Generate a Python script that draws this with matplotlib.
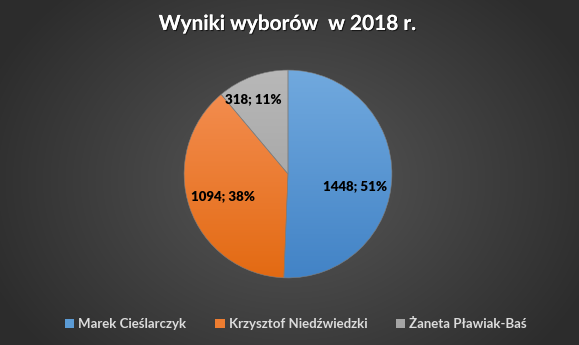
import numpy as np
import matplotlib
matplotlib.use("Agg")
import matplotlib.pyplot as plt
from matplotlib.patches import Patch
import matplotlib.patheffects as pe

title = "Wyniki wyborów  w 2018 r."
candidates = ["Marek Cieślarczyk", "Krzysztof Niedźwiedzki", "Żaneta Pławiak-Baś"]
votes = [1448, 1094, 318]
top_colors = ["#71a9de", "#f59157", "#b8b8b8"]
bottom_colors = ["#4283c6", "#e36a12", "#9a9a9a"]
legend_colors = ["#5b9bd5", "#ed7d31", "#a5a5a5"]

plt.rcParams['font.family'] = ['Lato', 'DejaVu Sans']

W, H = 579, 345
fig = plt.figure(figsize=(W / 100, H / 100), dpi=100)

# background radial gradient
bg = fig.add_axes([0, 0, 1, 1])
bg.set_axis_off()
yy, xx = np.mgrid[0:H, 0:W]
d = np.sqrt(((xx - 290) / 330.0) ** 2 + ((yy - 180) / 260.0) ** 2)
d = np.clip(d, 0, 1)
c0 = np.array([0x58, 0x58, 0x58]) / 255.0
c1 = np.array([0x2c, 0x2c, 0x2c]) / 255.0
img = c0[None, None, :] * (1 - d[..., None]) + c1[None, None, :] * d[..., None]
bg.imshow(img, extent=[0, W, H, 0], aspect='auto')
bg.set_xlim(0, W)
bg.set_ylim(H, 0)

# pie axes
cx, cy, r = 288, 174, 106
ax = fig.add_axes([(cx - r) / W, (H - cy - r) / H, 2 * r / W, 2 * r / H])
ax.set_axis_off()
total = sum(votes)
labels = [f"{v}; {round(v / total * 100):.0f}%" for v in votes]
wedges, texts = ax.pie(votes, startangle=90, counterclock=False, radius=1,
                       colors=legend_colors,
                       wedgeprops=dict(edgecolor="#7f7f7f", linewidth=0.4),
                       labels=labels, labeldistance=0.62)
ax.set_xlim(-1.02, 1.02)
ax.set_ylim(-1.02, 1.02)

# gradient fills
g = np.linspace(0, 1, 256)[:, None]
for w, ct, cb in zip(wedges, top_colors, bottom_colors):
    t = np.array(matplotlib.colors.to_rgb(ct))
    b = np.array(matplotlib.colors.to_rgb(cb))
    grad = t[None, None, :] * (1 - g[..., None]) + b[None, None, :] * g[..., None]
    grad = np.repeat(grad, 2, axis=1)
    im = ax.imshow(grad, extent=[-1, 1, -1, 1], aspect='auto', zorder=w.get_zorder() + 0.5)
    im.set_clip_path(w)
    w.set_facecolor("none")
    w.set_zorder(w.get_zorder() + 1)

label_pos = [(0.65, -0.12), (-0.63, -0.21), (-0.33, 0.72)]
for t, pos in zip(texts, label_pos):
    t.set_position(pos)
    t.set_ha("center")
    t.set_va("center")
    t.set_fontsize(9.5)
    t.set_fontweight("heavy")
    t.set_color("black")
    t.set_zorder(10)

shadow = [pe.withSimplePatchShadow(offset=(0.8, -0.8), shadow_rgbFace="black", alpha=0.6), pe.Normal()]
fig.text(288 / W, 1 - 24 / H, title, ha="center", va="center", fontsize=15,
         fontweight="bold", color="white", path_effects=shadow)

handles = [Patch(facecolor=c, edgecolor="none") for c in legend_colors]
leg = fig.legend(handles, candidates, loc="center", bbox_to_anchor=(296 / W, 1 - 324 / H),
                 ncol=3, frameon=False, handlelength=0.7, handleheight=0.7,
                 handletextpad=0.3, columnspacing=2.2,
                 prop=dict(size=9.5, weight="bold"))
for t in leg.get_texts():
    t.set_color("#dcdcdc")

fig.savefig("out.png", dpi=100)
